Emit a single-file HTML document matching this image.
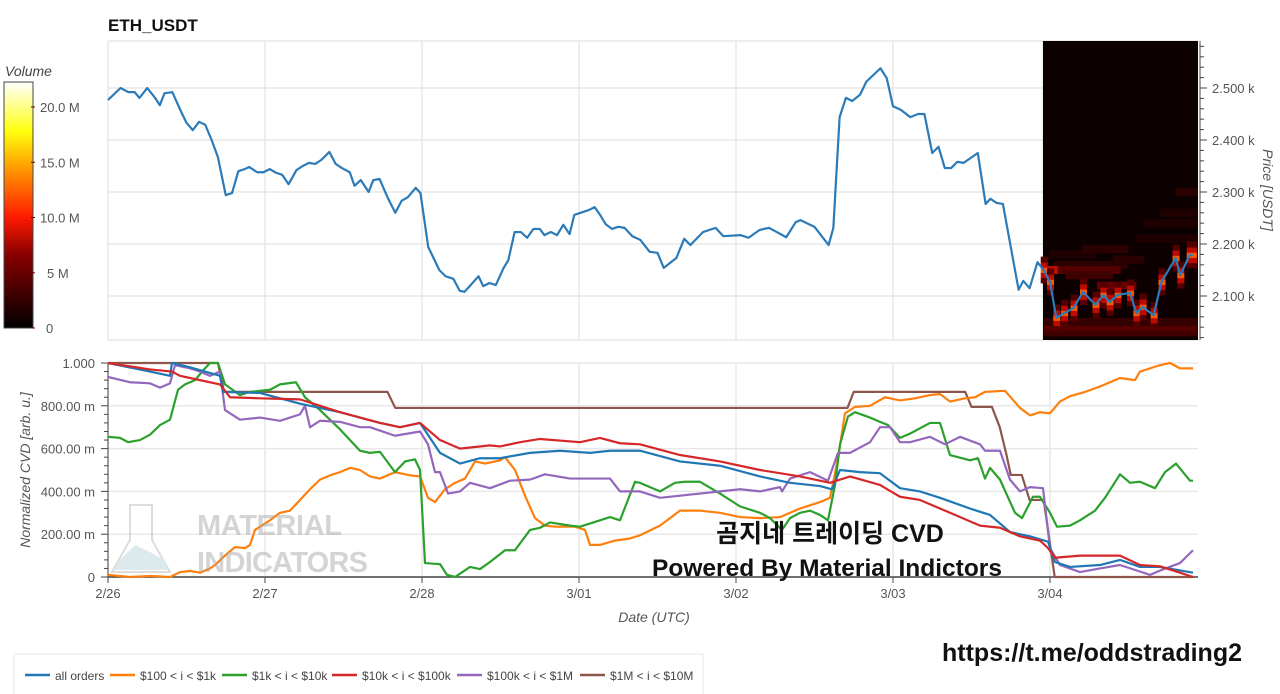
<!DOCTYPE html>
<html><head><meta charset="utf-8">
<style>
html,body{margin:0;padding:0;background:#fff;width:1280px;height:694px;overflow:hidden}
svg{display:block;font-family:"Liberation Sans","Noto Sans CJK KR",sans-serif}
</style></head>
<body>
<svg id="root" width="1280" height="694" viewBox="0 0 1280 694" xmlns="http://www.w3.org/2000/svg">
  <defs>
    <linearGradient id="cbar" x1="0" y1="1" x2="0" y2="0">
      <stop offset="0" stop-color="#000"/>
      <stop offset="0.3" stop-color="#8a0000"/>
      <stop offset="0.45" stop-color="#ff1a00"/>
      <stop offset="0.65" stop-color="#ff9a00"/>
      <stop offset="0.8" stop-color="#ffff10"/>
      <stop offset="1" stop-color="#ffffff"/>
    </linearGradient>
  </defs>
  <text x="108" y="31" font-size="17" font-weight="bold" fill="#111">ETH_USDT</text>
  <g id="colorbar">
    <text x="5" y="76" font-size="14" font-style="italic" fill="#444">Volume</text>
    <rect x="4" y="82" width="29" height="246" fill="url(#cbar)" stroke="#444" stroke-width="1"/>
  </g>
  <g id="topG"></g>
  <g id="botG"></g>
  <g id="wm" opacity="0.5">
    <path d="M140 505 L152 505 L152 540 L170 572 L112 572 L130 540 L130 505 Z" fill="none" stroke="#bbb" stroke-width="2"/>
    <path d="M120 560 L135 545 L150 552 L165 560 L168 570 L114 570 Z" fill="#bcd6dc"/>
    <text x="197" y="535" font-size="29" font-weight="bold" fill="#aaa" textLength="145">MATERIAL</text>
    <text x="197" y="572" font-size="29" font-weight="bold" fill="#aaa" textLength="171">INDICATORS</text>
  </g>
  <text x="830" y="542" font-size="25" font-weight="bold" text-anchor="middle" fill="#111">곰지네 트레이딩 CVD</text>
  <text x="827" y="576" font-size="24.5" font-weight="bold" text-anchor="middle" fill="#111">Powered By Material Indictors</text>
  <text x="1092" y="661" font-size="25" font-weight="bold" text-anchor="middle" fill="#111">https://t.me/oddstrading2</text>
  <g id="legend">
    <rect x="14" y="654" width="689" height="45" fill="#fff" stroke="#e6e6e6"/>
  </g>
</svg>
<script>
const NS="http://www.w3.org/2000/svg";
// ---- price data ----
const priceT=[0,.08,.13,.17,.20,.25,.30,.33,.36,.41,.46,.50,.54,.58,.62,.66,.70,.75,.79,.83,.87,.90,.95,.99,1.03,1.07,1.11,1.15,1.20,1.24,1.28,1.32,1.36,1.41,1.45,1.49,1.54,1.57,1.61,1.66,1.69,1.73,1.78,1.83,1.87,1.91,1.96,1.99,2.04,2.08,2.11,2.15,2.20,2.24,2.27,2.31,2.36,2.39,2.43,2.47,2.52,2.55,2.59,2.63,2.67,2.71,2.75,2.78,2.82,2.86,2.90,2.94,2.97,3.01,3.06,3.10,3.13,3.17,3.21,3.25,3.29,3.34,3.39,3.45,3.50,3.54,3.62,3.67,3.71,3.79,3.87,3.92,4.03,4.08,4.15,4.21,4.26,4.32,4.38,4.41,4.50,4.59,4.62,4.66,4.70,4.74,4.79,4.83,4.92,4.96,5.00,5.05,5.11,5.16,5.20,5.25,5.29,5.33,5.37,5.41,5.45,5.54,5.59,5.62,5.66,5.70,5.80,5.83,5.87,5.92,5.96,6.00,6.04,6.09,6.15,6.21,6.29,6.34,6.38,6.43,6.51,6.55,6.59,6.66,6.71,6.80,6.83,6.89,6.91];
const priceV=[2477,2500,2492,2492,2481,2500,2481,2467,2490,2492,2458,2433,2419,2435,2429,2400,2367,2294,2298,2340,2344,2348,2338,2338,2344,2337,2333,2315,2342,2350,2356,2354,2362,2377,2354,2346,2338,2312,2323,2300,2323,2325,2290,2260,2283,2290,2308,2298,2194,2169,2150,2138,2133,2110,2108,2121,2138,2119,2125,2121,2154,2169,2223,2223,2212,2229,2229,2217,2223,2217,2237,2219,2256,2260,2265,2271,2258,2238,2229,2233,2231,2215,2208,2185,2183,2154,2173,2210,2198,2223,2231,2215,2217,2212,2227,2231,2223,2213,2242,2246,2233,2198,2231,2444,2481,2475,2487,2512,2538,2519,2465,2458,2444,2450,2450,2375,2387,2346,2346,2358,2356,2375,2277,2287,2279,2277,2112,2129,2115,2165,2150,2127,2058,2067,2077,2108,2083,2102,2088,2102,2106,2067,2079,2063,2127,2173,2140,2179,2179];
const priceTicks=[2100,2200,2300,2400,2500];
const priceTickLabels=["2.100 k","2.200 k","2.300 k","2.400 k","2.500 k"];
// heatmap bands: start day, end day, price, volume (M)
const heatT0=[5.96,5.96,5.96,6.02,6.05,6.10,6.30,6.00,6.40,6.55,6.20,5.96,6.70,6.80,6.60];
const heatT1=[6.94,6.94,6.94,6.50,6.45,6.40,6.55,6.30,6.60,6.94,6.50,6.05,6.94,6.94,6.94];
const heatP=[2030,2040,2050,2160,2150,2140,2120,2180,2170,2210,2190,2150,2260,2300,2240];
const heatVol=[3,4,2.5,2,4,3,5,1.5,2,1.5,2,8,1.5,2,1.5];
const cbTicks=[0,5,10,15,20];
const cbLabels=["0","5 M","10.0 M","15.0 M","20.0 M"];
// ---- CVD data ----
const dayLabels=["2/26","2/27","2/28","3/01","3/02","3/03","3/04"];
const cvdTicks=[0,0.2,0.4,0.6,0.8,1.0];
const cvdTickLabels=["0","200.00 m","400.00 m","600.00 m","800.00 m","1.000"];
const seriesNames=["all orders","$100 < i < $1k","$1k < i < $10k","$10k < i < $100k","$100k < i < $1M","$1M < i < $10M"];
const seriesColors=["#1f77b4","#ff7f0e","#2ca02c","#d62728","#9467bd","#8c564b"];
const allX=[108,150,170,172,190,220,223,260,300,340,380,400,420,440,460,480,500,530,560,590,610,640,680,720,760,790,820,832,840,860,880,900,920,940,970,990,1010,1030,1048,1055,1070,1100,1120,1140,1160,1193];
const allV=[1,.96,.94,1,.98,.94,.865,.86,.81,.77,.72,.70,.72,.58,.53,.555,.555,.58,.59,.58,.59,.59,.54,.52,.47,.44,.425,.41,.50,.49,.485,.415,.40,.37,.32,.29,.21,.19,.165,.07,.047,.056,.08,.047,.047,.02];
const orangeX=[108,130,150,170,180,190,200,210,215,225,235,245,250,255,270,280,290,300,310,320,330,340,350,360,370,380,395,410,420,428,435,445,455,465,475,485,500,505,515,525,535,545,555,575,585,590,600,615,630,640,660,680,700,720,740,760,780,800,820,830,838,845,855,870,885,900,915,930,940,950,965,975,985,1005,1020,1030,1040,1050,1060,1070,1085,1100,1120,1135,1140,1160,1170,1180,1193];
const orangeV=[.01,0,.005,0,.023,.028,.02,.04,.056,.10,.14,.135,.15,.22,.265,.30,.31,.36,.41,.455,.475,.49,.51,.50,.47,.46,.49,.475,.47,.37,.35,.41,.44,.46,.54,.53,.545,.56,.50,.38,.275,.24,.235,.235,.22,.15,.15,.17,.18,.195,.24,.31,.31,.30,.28,.275,.28,.32,.35,.37,.555,.765,.795,.80,.84,.825,.835,.85,.855,.82,.835,.84,.865,.87,.79,.755,.77,.765,.82,.845,.865,.89,.93,.92,.96,.99,1.0,.975,.975];
const greenX=[108,120,128,140,150,160,170,178,185,195,205,210,218,225,240,250,270,280,296,305,320,340,360,370,380,395,405,415,420,425,440,447,455,470,480,490,505,515,530,540,550,570,580,600,610,620,635,640,660,675,685,700,720,740,760,770,782,790,800,810,820,828,835,840,848,855,870,880,888,900,910,930,940,950,970,978,985,990,1000,1015,1022,1033,1040,1050,1057,1070,1080,1095,1105,1120,1130,1140,1155,1165,1176,1190,1193];
const greenV=[.655,.65,.63,.64,.665,.71,.735,.875,.90,.92,.975,1.0,1.0,.90,.85,.865,.875,.90,.91,.84,.78,.69,.59,.58,.585,.49,.54,.55,.50,.065,.06,.01,0,.047,.037,.07,.125,.125,.22,.23,.255,.24,.235,.265,.28,.265,.445,.44,.40,.44,.445,.445,.39,.33,.30,.275,.22,.275,.30,.31,.29,.265,.43,.62,.75,.77,.745,.725,.71,.65,.67,.72,.72,.57,.545,.555,.46,.51,.455,.30,.275,.375,.375,.30,.235,.24,.265,.31,.37,.48,.44,.445,.415,.49,.53,.45,.45];
const redX=[108,150,172,180,200,220,230,260,300,340,380,400,420,440,460,490,500,520,540,580,600,620,640,680,720,760,800,830,850,880,900,920,950,980,1000,1020,1040,1048,1055,1080,1120,1140,1160,1180,1193];
const redV=[1,.97,.96,.94,.92,.90,.84,.835,.83,.77,.72,.70,.72,.64,.60,.615,.61,.63,.645,.63,.65,.625,.62,.57,.54,.50,.47,.44,.47,.43,.375,.36,.30,.24,.23,.19,.17,.135,.09,.10,.10,.056,.05,.02,0];
const purpleX=[108,130,150,160,170,175,190,200,210,220,225,240,260,280,300,305,310,320,340,360,370,395,420,428,435,440,448,460,470,490,510,530,545,570,610,620,640,660,680,720,740,760,780,782,790,810,828,838,850,870,880,890,900,910,930,945,960,980,985,1000,1010,1020,1030,1043,1050,1060,1080,1100,1120,1150,1160,1180,1193];
const purpleV=[.935,.91,.905,.885,.905,.99,.975,.96,.94,.96,.78,.735,.745,.73,.76,.80,.70,.73,.725,.70,.70,.66,.68,.62,.49,.49,.39,.40,.44,.415,.45,.455,.48,.46,.46,.40,.40,.37,.38,.40,.41,.40,.42,.40,.46,.49,.45,.58,.58,.63,.70,.70,.63,.63,.655,.62,.655,.62,.59,.59,.455,.40,.42,.415,.135,.056,.023,.04,.056,.01,.03,.065,.125];
const brownT=[0,0.70,0.74,1.78,1.83,4.71,4.75,5.46,5.50,5.63,5.68,5.72,5.75,5.82,5.87,5.96,6.03,6.91];
const brownV=[1,1,.865,.865,.79,.79,.865,.865,.795,.795,.70,.58,.477,.477,.36,.36,0,0];

// ---- scales ----
const X0=108,DAY=157;
const xT=t=>X0+t*DAY;
const xPix2T=x=>(x-X0)/DAY;
const yP=p=>88+(2500-p)*0.52;
const yC=v=>577-v*214;
const topG=document.getElementById('topG'),botG=document.getElementById('botG'),root=document.getElementById('root');
function mk(tag,attrs,parent){const e=document.createElementNS(NS,tag);for(const k in attrs)e.setAttribute(k,attrs[k]);parent.appendChild(e);return e;}
function cmap(v){const s=Math.max(0,Math.min(1,v/22));
 const stops=[[0,[0,0,0]],[.3,[138,0,0]],[.45,[255,26,0]],[.65,[255,154,0]],[.8,[255,255,16]],[1,[255,255,255]]];
 for(let i=1;i<stops.length;i++){if(s<=stops[i][0]){const a=stops[i-1],b=stops[i],f=(s-a[0])/(b[0]-a[0]);
 return 'rgb('+a[1].map((c,j)=>Math.round(c+(b[1][j]-c)*f)).join(',')+')';}}return '#fff';}

// ---- top chart grid ----
for(let i=0;i<dayLabels.length;i++){
 const g=mk('line',{x1:xT(i),x2:xT(i),y1:41,y2:340,stroke:'#e8e8e8','stroke-width':1.5},topG);
 
 
}
[41,340].forEach(y=>{const g=mk('line',{x1:108,x2:1198,y1:y,y2:y,stroke:'#e8e8e8','stroke-width':1.5},topG);
 
 });
priceTicks.forEach((p,i)=>{
 const g=mk('line',{x1:108,x2:1198,y1:yP(p),y2:yP(p),stroke:'#e8e8e8','stroke-width':1.5},topG);
 
 
 const t=mk('text',{x:1212,y:yP(p)+5,'font-size':13,fill:'#555'},topG);t.textContent=priceTickLabels[i];
 
 
});
// heatmap
const hm=mk('rect',{x:xT(5.955),y:41,width:1198-xT(5.955),height:299,fill:'#0c0000'},topG);


for(let i=0;i<heatT0.length;i++){
 const r=mk('rect',{x:xT(heatT0[i]),y:yP(heatP[i])-4,width:xT(heatT1[i])-xT(heatT0[i]),height:8,fill:cmap(heatVol[i])},topG);
 
 
}
for(let i=0;i<priceT.length;i++){ if(priceT[i]<5.96) continue;
 for(let k=-2;k<=2;k++){
  const r=mk('rect',{x:xT(priceT[i])-3,y:yP(priceV[i]+k*10)-3,width:7,height:6,fill:cmap(k===0?12:(Math.abs(k)===1?8:4))},topG);
  
  
 }
}
// price line
const pl=mk('polyline',{points:priceT.map((t,i)=>xT(t)+','+yP(priceV[i])).join(' '),fill:'none',stroke:'#2b7bb9','stroke-width':2.2,'stroke-linejoin':'round'},topG);


// price axis
const pa=mk('line',{x1:1200,x2:1200,y1:41,y2:340,stroke:'#444','stroke-width':1},topG);


for(let p=2020;p<=2580;p+=20){const y=yP(p);if(y<41||y>340)continue;
 const tk=mk('line',{x1:1200,x2:p%100===0?1207:1204,y1:y,y2:y,stroke:'#444'},topG);
 
 }
const pt=mk('text',{x:1263,y:190,'font-size':14,'font-style':'italic',fill:'#555','text-anchor':'middle',transform:'rotate(90 1263 190)'},topG);
pt.textContent='Price [USDT]';


// colorbar ticks
cbTicks.forEach((v,i)=>{
 const yy=328-v/20*221;
 const t=mk('text',{x:i===0?46:(i===1?47:40),y:yy+5,'font-size':13,fill:'#555'},root);t.textContent=cbLabels[i];
 
 
 const l=mk('line',{x1:31,x2:35,y1:yy,y2:yy,stroke:'#600'},root);
 
 
});

// ---- bottom chart ----
for(let i=0;i<dayLabels.length;i++){
 const g=mk('line',{x1:xT(i),x2:xT(i),y1:363,y2:577,stroke:'#e8e8e8','stroke-width':1.5},botG);
 
 
 const tk=mk('line',{x1:xT(i),x2:xT(i),y1:577,y2:583,stroke:'#444'},botG);
 
 
 const t=mk('text',{x:xT(i),y:598,'font-size':13,fill:'#555','text-anchor':'middle'},botG);t.textContent=dayLabels[i];
 
 
}
cvdTicks.forEach((v,i)=>{
 const g=mk('line',{x1:108,x2:1198,y1:yC(v),y2:yC(v),stroke:'#e8e8e8','stroke-width':1.5},botG);
 
 
 const t=mk('text',{x:95,y:yC(v)+5,'font-size':13,fill:'#555','text-anchor':'end'},botG);t.textContent=cvdTickLabels[i];
 
 
});
for(let k=0;k<=25;k++){const v=k*0.04;const tk=mk('line',{x1:k%5===0?101:104,x2:108,y1:yC(v),y2:yC(v),stroke:'#444'},botG);
 
 }
const ya=mk('line',{x1:108,x2:108,y1:363,y2:577,stroke:'#444'},botG);


const xa=mk('line',{x1:108,x2:1198,y1:577,y2:577,stroke:'#444','stroke-width':1.5},botG);


const yt=mk('text',{x:30,y:470,'font-size':14,'font-style':'italic',fill:'#555','text-anchor':'middle',transform:'rotate(-90 30 470)'},botG);
yt.textContent='Normalized CVD [arb. u.]';


const xt=mk('text',{x:654,y:622,'font-size':14,'font-style':'italic',fill:'#555','text-anchor':'middle'},botG);
xt.textContent='Date (UTC)';



const seriesT=[allX.map(xPix2T),orangeX.map(xPix2T),greenX.map(xPix2T),redX.map(xPix2T),purpleX.map(xPix2T),brownT];
const seriesV=[allV,orangeV,greenV,redV,purpleV,brownV];
const drawOrder=[5,1,2,4,0,3];
const seriesKeys=['all-orders','100-1k','1k-10k','10k-100k','100k-1m','1m-10m'];
drawOrder.forEach(s=>{
 const l=mk('polyline',{points:seriesT[s].map((t,i)=>xT(t)+','+yC(seriesV[s][i])).join(' '),fill:'none',stroke:seriesColors[s],'stroke-width':2.2,'stroke-linejoin':'round'},botG);
 
 
});
// legend
const leg=document.getElementById('legend');
const legX=[25,110,222,332,457,580];
seriesNames.forEach((n,i)=>{
 const g=mk('g',{},leg);
 
 
 mk('line',{x1:legX[i],x2:legX[i]+25,y1:675,y2:675,stroke:seriesColors[i],'stroke-width':2.5},g);
 const t=mk('text',{x:legX[i]+30,y:680,'font-size':12,fill:'#444'},g);t.textContent=n;
});
</script>
</body></html>
